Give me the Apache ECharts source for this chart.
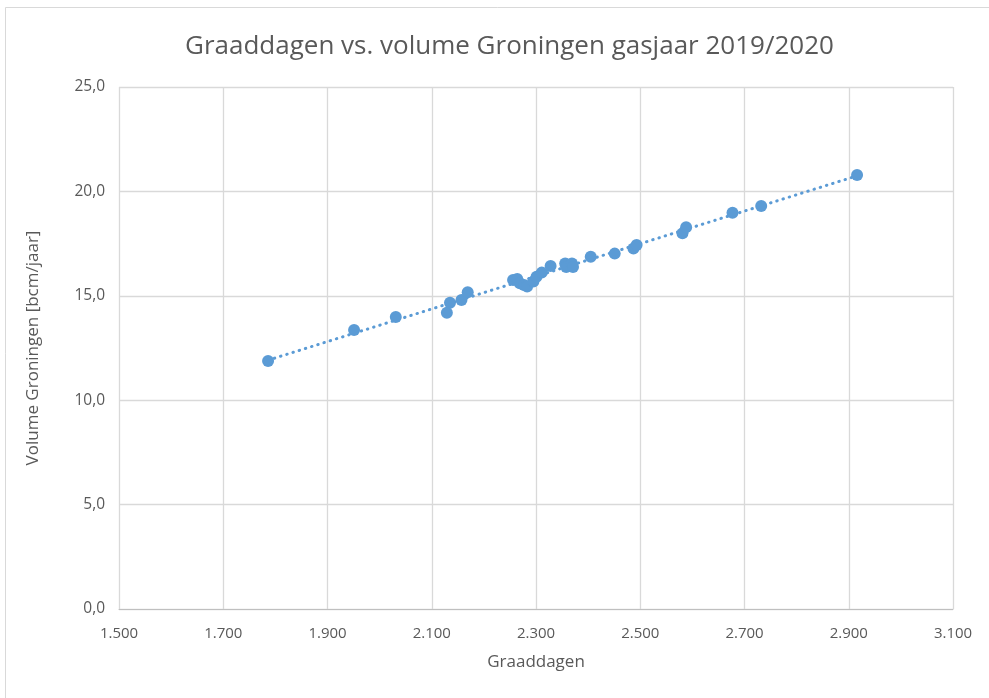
<!DOCTYPE html>
<html><head><meta charset="utf-8">
<script src="https://cdn.jsdelivr.net/npm/echarts@6/dist/echarts.min.js"></script>
<style>html,body{margin:0;padding:0;background:#fff}#c{width:989px;height:698px}</style>
</head><body><div id="c"></div>
<script>
const graaddagen = [1786,1951,2031,2129,2135,2157,2169,2256,2264,2269,2277,2283,2295,2301,2311,2328,2356,2358,2369,2371,2405,2451,2487,2493,2581,2588,2677,2732,2916];
const volume = [11.88,13.36,13.98,14.19,14.67,14.80,15.17,15.76,15.80,15.60,15.52,15.44,15.68,15.91,16.11,16.43,16.55,16.38,16.55,16.38,16.87,17.02,17.27,17.43,17.99,18.28,18.98,19.30,20.79];
const titleText = 'Graaddagen vs. volume Groningen gasjaar 2019/2020';
const xName = 'Graaddagen';
const yName = 'Volume Groningen [bcm/jaar]';

const pts = graaddagen.map((x,i)=>[x, volume[i]]);
// least-squares trendline (as in the source chart)
const n = pts.length;
let sx=0, sy=0, sxx=0, sxy=0;
pts.forEach(([x,y])=>{sx+=x;sy+=y;sxx+=x*x;sxy+=x*y;});
const slope = (n*sxy - sx*sy)/(n*sxx - sx*sx);
const icpt = (sy - slope*sx)/n;
const xmin = Math.min(...graaddagen), xmax = Math.max(...graaddagen);
const trend = [[xmin, icpt+slope*xmin],[xmax, icpt+slope*xmax]];

const F = '"Open Sans", "Noto Sans", sans-serif';
const chart = echarts.init(document.getElementById('c'));
chart.setOption({
  animation:false,
  backgroundColor:'#fff',
  title:{text:titleText,left:180,top:29,textStyle:{fontFamily:F,fontSize:26,fontWeight:'normal',color:'#595959'}},
  graphic:[{type:'rect',shape:{x:5.5,y:7.5,width:1000,height:700},style:{fill:'none',stroke:'#d9d9d9',lineWidth:1},silent:true,z:-1}],
  grid:{left:119,right:36,top:87,bottom:89},
  xAxis:{type:'value',min:1500,max:3100,interval:200,
    name:xName,nameLocation:'middle',nameGap:45,
    nameTextStyle:{fontFamily:F,fontSize:17,color:'#595959'},
    axisLine:{show:true,lineStyle:{color:'#bfbfbf'}},axisTick:{show:false},
    axisLabel:{fontFamily:F,fontSize:15,color:'#595959',margin:17,formatter:v=>v.toString().replace(/\B(?=(\d{3})+(?!\d))/g,'.')},
    splitLine:{show:true,lineStyle:{color:'#d9d9d9',width:1.3}}},
  yAxis:{type:'value',min:0,max:25,interval:5,
    name:yName,nameLocation:'middle',nameGap:77,
    nameTextStyle:{fontFamily:F,fontSize:17,color:'#595959'},
    axisLine:{show:false},axisTick:{show:false},
    axisLabel:{fontFamily:F,fontSize:15.5,color:'#595959',margin:14,formatter:v=>v.toFixed(1).replace('.',',')},
    splitLine:{show:true,lineStyle:{color:'#d9d9d9',width:1.3}}},
  series:[
    {type:'line',data:trend,symbol:'none',silent:true,lineStyle:{color:'#5b9bd5',width:3,type:[0.5,6],cap:'round'},z:1},
    {type:'scatter',data:pts,symbol:'circle',symbolSize:12,itemStyle:{color:'#5b9bd5',opacity:1},z:2}
  ]
});
</script></body></html>
